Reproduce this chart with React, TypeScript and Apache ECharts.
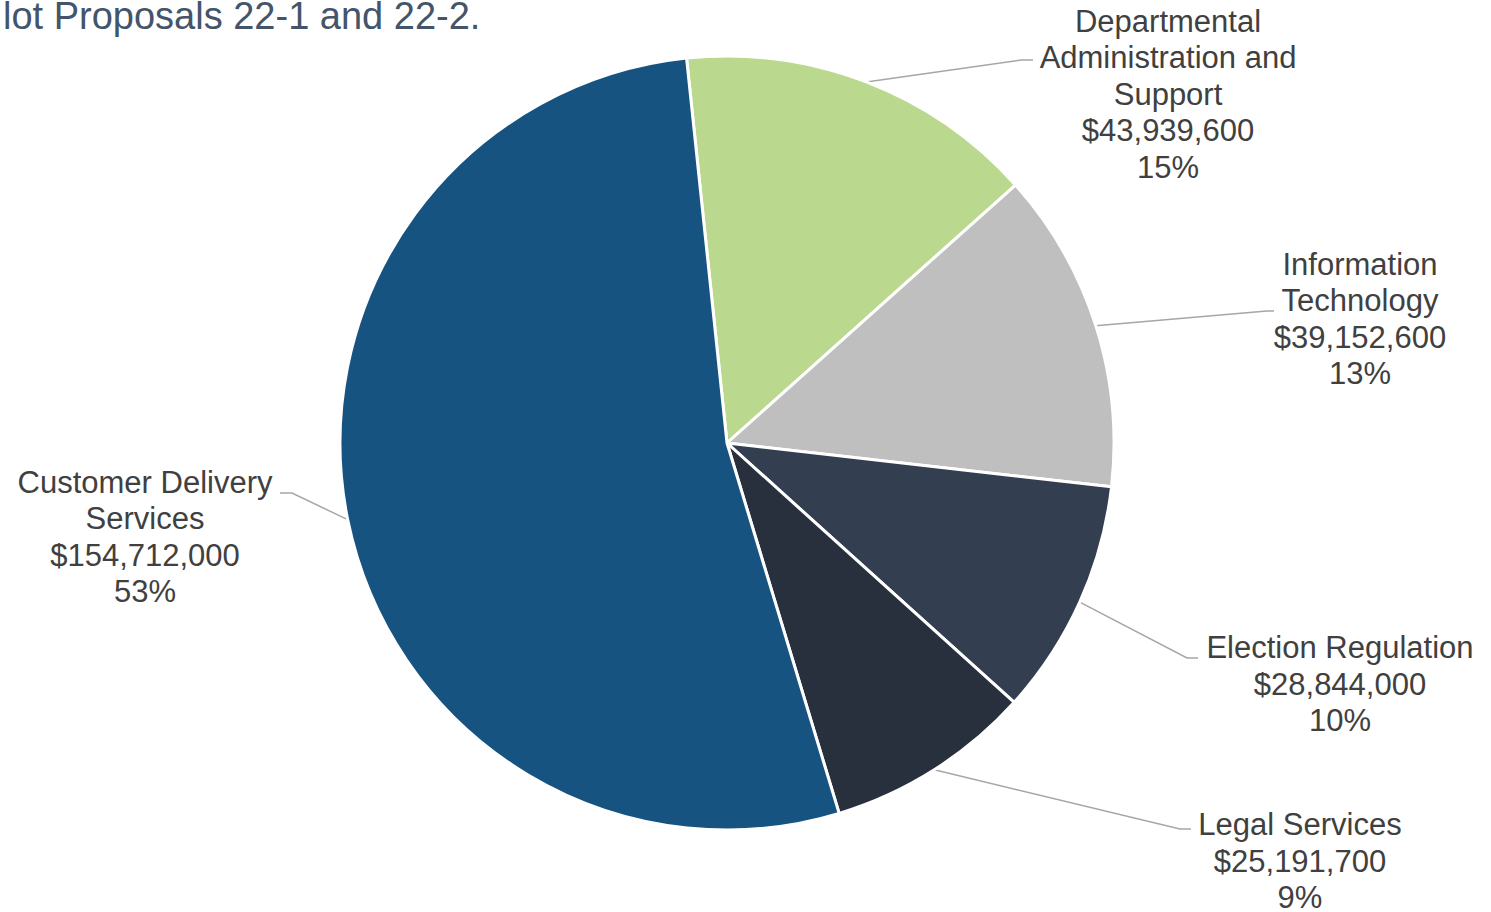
import React, { useEffect, useRef } from "react";
import * as echarts from "echarts";

const categories = [
  "Departmental Administration and Support",
  "Information Technology",
  "Election Regulation",
  "Legal Services",
  "Customer Delivery Services",
];
const labelNames = [
  "Departmental\nAdministration and\nSupport",
  "Information\nTechnology",
  "Election Regulation",
  "Legal Services",
  "Customer Delivery\nServices",
];
const values = [43939600, 39152600, 28844000, 25191700, 154712000];
const colors = ["#BBD98E", "#BFBFBF", "#333F50", "#282F3D", "#175380"];
const titleText = "lot Proposals 22-1 and 22-2.";

// label placement: [centerX, centerY], elbow point, end point
const labelPos = [
  { c: [1168, 94], elbow: [1021, 60], end: [1033, 60] },
  { c: [1360, 319], elbow: [1267, 311], end: [1274, 311] },
  { c: [1340, 684], elbow: [1187, 658], end: [1198, 658] },
  { c: [1300, 861], elbow: [1180, 829], end: [1191, 829] },
  { c: [145, 537], elbow: [292, 493], end: [280, 493] },
];

export default function App() {
  const ref = useRef<HTMLDivElement>(null);
  useEffect(() => {
    document.body.style.margin = "0";
    const chart = echarts.init(ref.current!, null, { renderer: "svg" });
    const total = values.reduce((a, b) => a + b, 0);
    chart.setOption({
      animation: false,
      backgroundColor: "#FFFFFF",
      graphic: [
        {
          type: "text",
          left: 3,
          top: -3,
          style: {
            text: titleText,
            font: "38px 'Liberation Sans', Arial, sans-serif",
            fill: "#44546A",
          },
        },
      ],
      series: [
        {
          type: "pie",
          center: [727, 443],
          radius: 387,
          startAngle: 96,
          clockwise: true,
          avoidLabelOverlap: false,
          itemStyle: { borderColor: "#FFFFFF", borderWidth: 3 },
          data: categories.map((name, i) => ({
            name,
            value: values[i],
            itemStyle: { color: colors[i] },
          })),
          label: {
            show: true,
            position: "outside",
            color: "#404040",
            fontSize: 31,
            lineHeight: 36.5,
            fontFamily: "'Liberation Sans', Arial, sans-serif",
            align: "center",
            formatter: (p: any) =>
              labelNames[p.dataIndex] +
              "\n$" +
              p.value.toLocaleString("en-US") +
              "\n" +
              Math.round((p.value / total) * 100) +
              "%",
          },
          labelLine: {
            show: true,
            lineStyle: { color: "#A6A6A6", width: 1.5 },
          },
          labelLayout: (params: any) => {
            const lp = labelPos[params.dataIndex];
            const start = params.labelLinePoints
              ? params.labelLinePoints[0]
              : lp.elbow;
            return {
              x: lp.c[0],
              y: lp.c[1],
              align: "center",
              verticalAlign: "middle",
              labelLinePoints: [start, lp.elbow, lp.end],
            };
          },
        },
      ],
    });
    return () => chart.dispose();
  }, []);
  return (
    <div
      ref={ref}
      style={{ position: "fixed", left: 0, top: 0, width: 1491, height: 912 }}
    />
  );
}
